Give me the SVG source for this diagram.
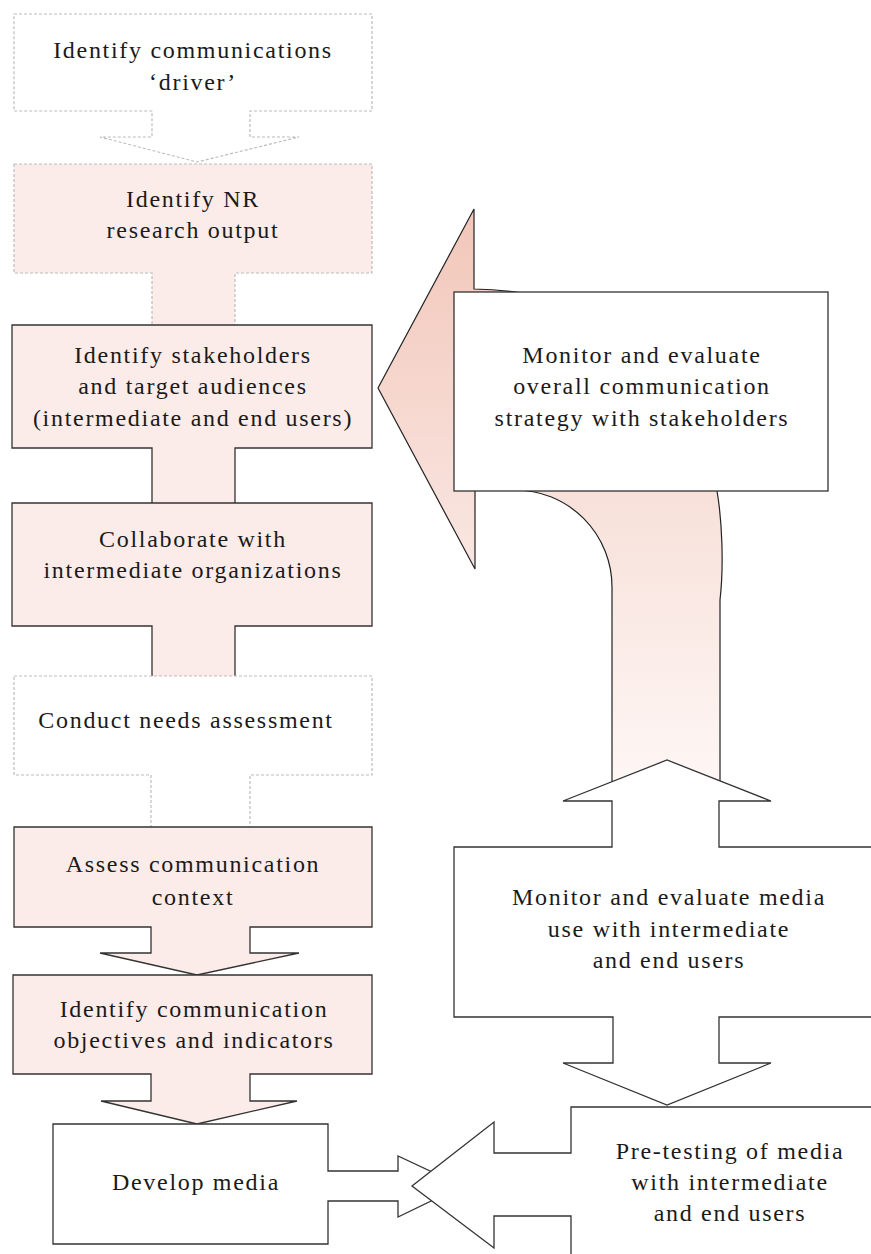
<svg xmlns="http://www.w3.org/2000/svg" width="871" height="1254" viewBox="0 0 871 1254">
<style>
.dash{stroke:#bcbcbc;stroke-width:1.2;stroke-dasharray:3 2;}
.solid{stroke:#333;stroke-width:1.3;}
.pink{fill:#fbece9;}
.white{fill:#fff;}
.t{font-family:"Liberation Serif",serif;font-size:24px;letter-spacing:1.7px;fill:#1a1a1a;text-anchor:middle;}
</style>
<defs>
<linearGradient id="g" gradientUnits="userSpaceOnUse" x1="0" y1="209" x2="0" y2="800">
<stop offset="0" stop-color="#f2c6b9"/>
<stop offset="0.5" stop-color="#f8e1db"/>
<stop offset="1" stop-color="#fef8f6"/>
</linearGradient>
</defs>
<g id="connectors">
<path id="feedback-arrow" d="M474 209 L378 388 L475 569 L475 488 L515 490 A97 97 0 0 1 612 587 L612 800 L720 800 L720 600 C724 565 722 520 717 491 C705 330 580 292 474 289 Z" fill="url(#g)" stroke="#222" stroke-width="1.2"/>
</g>
<g id="n1">
<path class="dash white" d="M14 14 H372 V111 H250 V137 H299 L197 162 L100 137 H152 V111 H14 Z"/>
<text class="t" x="193" y="58">Identify communications</text>
<text class="t" x="193" y="90">‘driver’</text>
</g>
<g id="n2">
<path class="dash pink" d="M14 164 H372 V273 H235 V330 H152 V273 H14 Z"/>
<text class="t" x="193" y="207">Identify NR</text>
<text class="t" x="193" y="238">research output</text>
</g>
<g id="n3">
<path class="solid pink" d="M12 325 H372 V448 H235 V506 H152 V448 H12 Z"/>
<text class="t" x="193" y="363">Identify stakeholders</text>
<text class="t" x="193" y="394">and target audiences</text>
<text class="t" x="193" y="426">(intermediate and end users)</text>
</g>
<g id="n4">
<path class="solid pink" d="M12 503 H372 V626 H235 V679 H152 V626 H12 Z"/>
<text class="t" x="193" y="547">Collaborate with</text>
<text class="t" x="193" y="578">intermediate organizations</text>
</g>
<g id="n5">
<path class="dash white" d="M14 676 H372 V775 H250 V830 H151 V775 H14 Z"/>
<text class="t" x="186" y="728">Conduct needs assessment</text>
</g>
<g id="n6">
<path class="solid pink" d="M14 827 H372 V927 H250 V953 H299 L197 975 L100 953 H151 V927 H14 Z"/>
<text class="t" x="193" y="872">Assess communication</text>
<text class="t" x="193" y="905">context</text>
</g>
<g id="n7">
<path class="solid pink" d="M13 975 H372 V1074 H250 V1101 H297 L197 1124 L101 1101 H151 V1074 H13 Z"/>
<text class="t" x="194" y="1017">Identify communication</text>
<text class="t" x="194" y="1048">objectives and indicators</text>
</g>
<g id="n8">
<path class="solid white" d="M53 1124 H328 V1171 H398 V1156 L462 1186 L398 1217 V1201 H328 V1244 H53 Z"/>
<text class="t" x="196" y="1190">Develop media</text>
</g>
<g id="n9">
<rect class="solid white" x="454" y="292" width="374" height="199"/>
<text class="t" x="642" y="363">Monitor and evaluate</text>
<text class="t" x="642" y="394">overall communication</text>
<text class="t" x="642" y="426">strategy with stakeholders</text>
</g>
<g id="n10">
<path class="solid white" d="M880 847 H719 V801 H771 L667 760 L563 801 H612 V847 H454 V1017 H613 V1063 H563 L667 1105 L771 1063 H719 V1017 H880 Z"/>
<text class="t" x="669" y="905">Monitor and evaluate media</text>
<text class="t" x="669" y="937">use with intermediate</text>
<text class="t" x="669" y="968">and end users</text>
</g>
<g id="n11">
<path class="solid white" d="M880 1107 H571 V1153 H494 V1122 L412 1186 L494 1248 V1216 H571 V1262 H880 Z"/>
<text class="t" x="730" y="1159">Pre-testing of media</text>
<text class="t" x="730" y="1190">with intermediate</text>
<text class="t" x="730" y="1221">and end users</text>
</g>
</svg>
